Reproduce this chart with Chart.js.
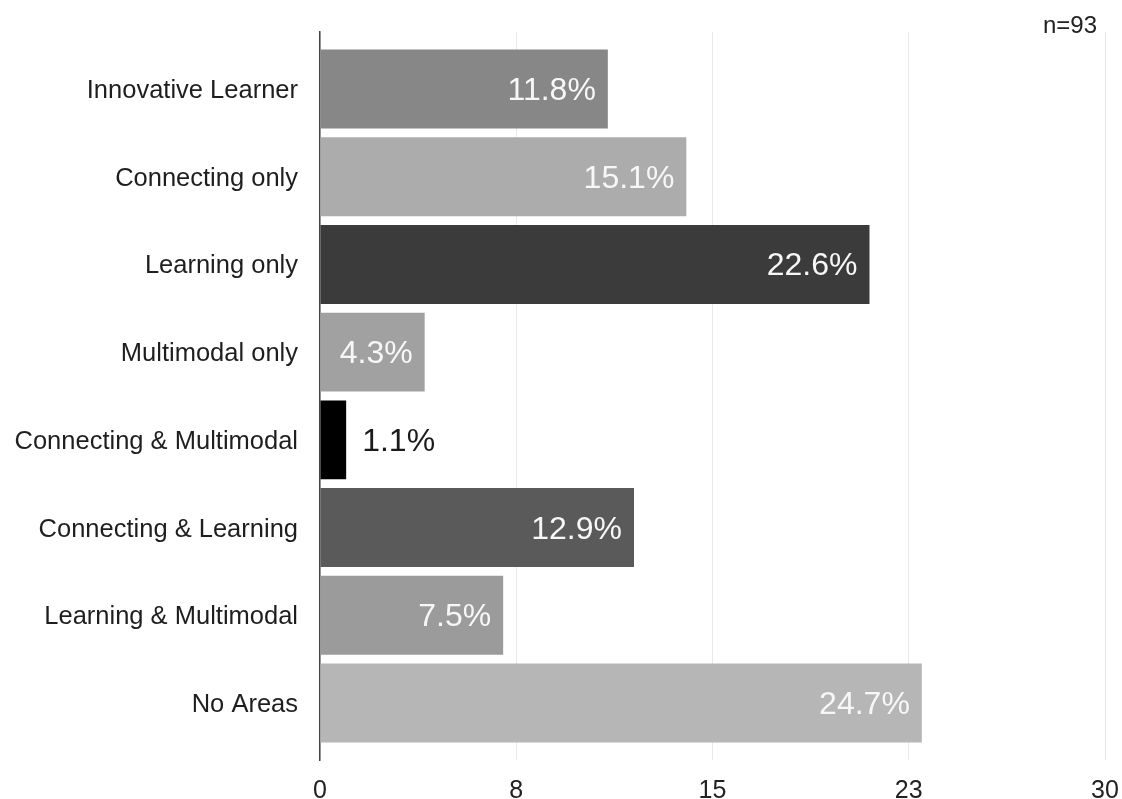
<!DOCTYPE html>
<html>
<head>
<meta charset="utf-8">
<title>Areas</title>
<script src="https://cdn.jsdelivr.net/npm/chart.js@4/dist/chart.umd.min.js"></script>
<style>
  html, body { margin: 0; padding: 0; background: #ffffff; }
  #wrap { width: 1122px; height: 799px; }
</style>
</head>
<body>
<div id="wrap"><canvas id="chart" width="1122" height="799"></canvas></div>
<script>
// Respondents per group
const categories = [
  'Innovative Learner',
  'Connecting only',
  'Learning only',
  'Multimodal only',
  'Connecting & Multimodal',
  'Connecting & Learning',
  'Learning & Multimodal',
  'No Areas'
];
const counts = [11, 14, 21, 4, 1, 12, 7, 23];
const barColors = ['#878787', '#acacac', '#3b3b3b', '#a1a1a1', '#000000', '#5a5a5a', '#9b9b9b', '#b6b6b6'];
const xTickValues = [0, 7.5, 15, 22.5, 30];

const total = counts.reduce((a, b) => a + b, 0);
const pctLabel = c => (c / total * 100).toFixed(1) + '%';

const FONT = '"Liberation Sans", Arial, Helvetica, sans-serif';

// Percentage labels on the bars plus the sample size in the corner
const valueLabels = {
  id: 'valueLabels',
  afterDatasetsDraw(chart) {
    const ctx = chart.ctx;
    const meta = chart.getDatasetMeta(0);
    const pad = 12;
    ctx.save();
    ctx.font = '32px ' + FONT;
    ctx.textBaseline = 'alphabetic';
    meta.data.forEach((bar, i) => {
      const text = pctLabel(counts[i]);
      const w = ctx.measureText(text).width;
      const len = bar.x - bar.base;
      const y = bar.y + 11;
      if (len > w + pad * 2) {
        ctx.textAlign = 'right';
        ctx.fillStyle = '#f7f7f7';
        ctx.fillText(text, bar.x - pad, y);
      } else {
        ctx.textAlign = 'left';
        ctx.fillStyle = '#1a1a1a';
        ctx.fillText(text, bar.x + 16, y);
      }
    });
    ctx.font = '24px ' + FONT;
    ctx.textAlign = 'right';
    ctx.fillStyle = '#222222';
    ctx.fillText('n=' + total, chart.chartArea.right - 8, chart.chartArea.top + 1);
    ctx.restore();
  }
};

new Chart(document.getElementById('chart'), {
  type: 'bar',
  data: {
    datasets: [{
      data: counts.map((c, i) => ({ x: c, y: i })),
      backgroundColor: barColors,
      borderWidth: 0,
      categoryPercentage: 1.0,
      barPercentage: 0.9
    }]
  },
  options: {
    indexAxis: 'y',
    responsive: false,
    devicePixelRatio: 1,
    animation: false,
    events: [],
    layout: { padding: { top: 32, right: 17, left: 0, bottom: 0 } },
    plugins: {
      legend: { display: false },
      tooltip: { enabled: false }
    },
    scales: {
      x: {
        type: 'linear',
        min: 0,
        max: 30,
        afterBuildTicks: scale => { scale.ticks = xTickValues.map(v => ({ value: v })); },
        afterFit: scale => {
          scale.height = 39;
          scale.paddingLeft = 0;
          scale.paddingRight = 0;
        },
        grid: { color: '#e8e8e8', lineWidth: 1, drawTicks: false },
        border: { display: false },
        ticks: {
          padding: 16,
          color: '#222222',
          font: { family: FONT, size: 25 },
          callback: v => String(Math.round(v))
        }
      },
      y: {
        type: 'linear',
        offset: false,
        reverse: true,
        min: -0.65,
        max: 7.65,
        afterBuildTicks: scale => { scale.ticks = categories.map((_, i) => ({ value: i })); },
        afterFit: scale => {
          scale.width = 320;
          scale.paddingTop = 0;
          scale.paddingBottom = 0;
        },
        grid: { display: false, drawTicks: false },
        border: { display: true, color: '#444444', width: 1.5 },
        ticks: {
          padding: 22,
          labelOffset: 2,
          color: '#1e1e1e',
          font: { family: FONT, size: 25.5 },
          callback: v => categories[v]
        }
      }
    }
  },
  plugins: [valueLabels]
});
</script>
</body>
</html>
